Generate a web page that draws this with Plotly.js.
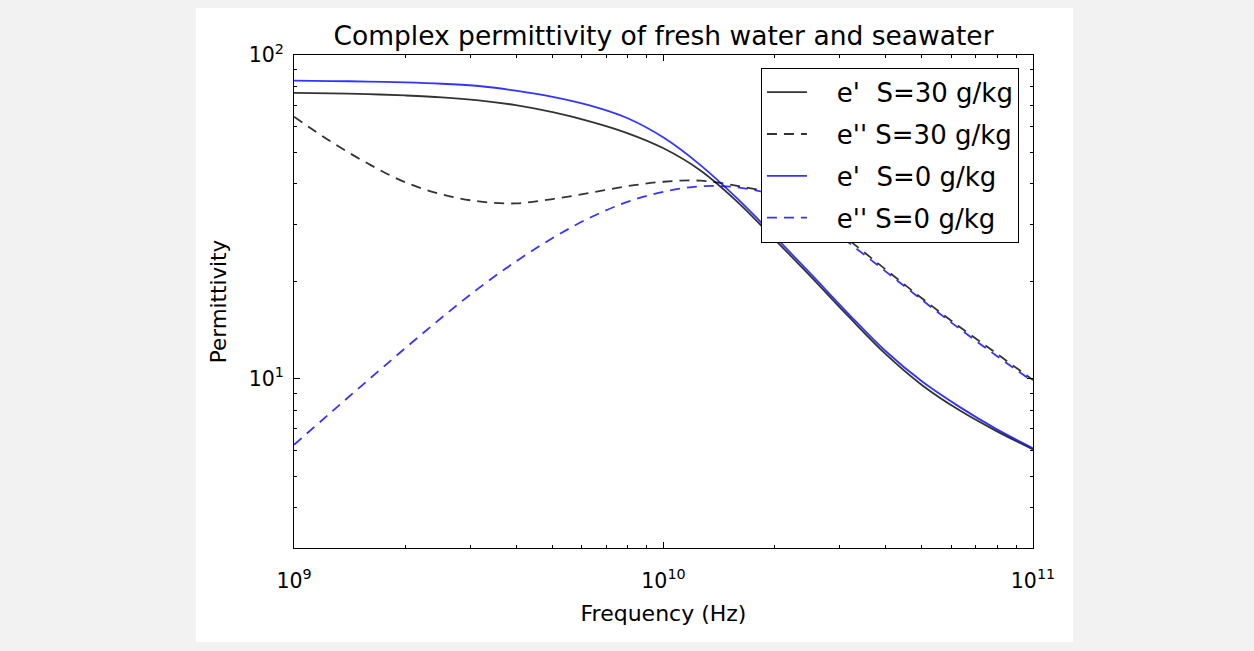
<!DOCTYPE html>
<html>
<head>
<meta charset="utf-8">
<script src="https://cdn.plot.ly/plotly-3.0.1.min.js"></script>
<style>html,body{margin:0;padding:0;background:#f2f2f2;}#chart{width:1254px;height:651px;}</style>
</head>
<body>
<div id="chart"></div>
<script>
// Frequencies (Hz) as log10 values
const logFreq = [9.0, 9.1, 9.2, 9.3, 9.4, 9.5, 9.6, 9.7, 9.8, 9.9, 10.0, 10.1, 10.2, 10.3, 10.4, 10.5, 10.6, 10.7, 10.8, 10.9, 11.0];
const freq = logFreq.map(v => Math.pow(10, v));

// e' S=30 g/kg (black solid)
const eReal30 = [76.4, 76.1, 75.7, 75.0, 74.0, 72.4, 70.0, 66.6, 62.4, 57.5, 51.5, 44.0, 35.2, 27.0, 20.6, 15.6, 11.95, 9.55, 8.0, 6.9, 6.05];
// e'' S=30 g/kg (black dashed)
const eImag30 = [64.5, 54.0, 46.2, 40.5, 37.1, 35.3, 34.8, 35.9, 37.5, 39.3, 40.6, 40.9, 39.4, 37.2, 33.0, 26.9, 21.8, 17.7, 14.5, 12.0, 9.9];
// e' S=0 g/kg (blue solid)
const eReal0 = [83.3, 83.1, 82.8, 82.3, 81.5, 80.2, 77.6, 74.3, 69.9, 64.0, 55.6, 45.7, 36.0, 27.6, 21.0, 15.9, 12.2, 9.8, 8.2, 7.0, 6.1];
// e'' S=0 g/kg (blue dashed)
const eImag0 = [6.25, 7.87, 9.89, 12.4, 15.45, 19.05, 23.0, 27.2, 31.4, 35.1, 37.8, 39.3, 39.0, 36.8, 32.4, 26.4, 21.5, 17.5, 14.3, 11.8, 9.8];

const seriesNames = ["e'\u00a0 S=30 g/kg", "e'' S=30 g/kg", "e'\u00a0 S=0 g/kg", "e'' S=0 g/kg"];

const xTickVals = [1e9, 1e10, 1e11];
const xTickText = ["10<sup>9</sup>", "10<sup>10</sup>", "10<sup>11</sup>"];
const xMinorVals = [2e9, 3e9, 4e9, 5e9, 6e9, 7e9, 8e9, 9e9, 2e10, 3e10, 4e10, 5e10, 6e10, 7e10, 8e10, 9e10];
const yTickVals = [10, 100];
const yTickText = ["10<sup>1</sup>", "10<sup>2</sup>"];
const yMinorVals = [3, 4, 5, 6, 7, 8, 9, 20, 30, 40, 50, 60, 70, 80, 90];

const BLACK = 'rgba(0,0,0,0.8)';
const BLUE = 'rgba(0,0,255,0.8)';
const DASH = '10px,7px';
const PAD = '\u00a0\u00a0\u00a0';

function tr(y, name, color, dash, grp) {
  return {
    x: freq, y: y, name: PAD + name, type: 'scatter', mode: 'lines',
    legendgroup: grp,
    line: {color: color, width: 1.8, dash: dash, shape: 'spline'}
  };
}

const data = [
  tr(eReal30, seriesNames[0], BLACK, 'solid', 'a'),
  tr(eImag30, seriesNames[1], BLACK, DASH, 'b'),
  tr(eReal0, seriesNames[2], BLUE, 'solid', 'c'),
  tr(eImag0, seriesNames[3], BLUE, DASH, 'd')
];

const FONT = 'DejaVu Sans, sans-serif';

const layout = {
  width: 1254, height: 651,
  margin: {l: 294, r: 221, t: 55, b: 103},
  paper_bgcolor: '#f2f2f2',
  plot_bgcolor: '#ffffff',
  font: {family: FONT, color: '#000', size: 20},
  title: {text: 'Complex permittivity of fresh water and seawater', font: {family: FONT, size: 26.5, color: '#000'},
          x: 0.5, xanchor: 'center', xref: 'paper', y: 0.945, yref: 'container', yanchor: 'middle'},
  xaxis: {
    type: 'log', range: [9, 11],
    showline: true, linecolor: '#000', linewidth: 1, mirror: 'allticks',
    ticks: 'inside', ticklen: 6, tickcolor: '#000', tickwidth: 1,
    tickvals: xTickVals, ticktext: xTickText,
    tickfont: {family: FONT, size: 20.5, color: '#000'},
    ticklabelstandoff: 14,
    showgrid: false, zeroline: false,
    minor: {tickmode: 'array', tickvals: xMinorVals, ticks: 'inside', ticklen: 3, tickcolor: '#000', showgrid: false},
    title: {text: 'Frequency (Hz)', font: {family: FONT, size: 22, color: '#000'}, standoff: 14}
  },
  yaxis: {
    type: 'log', range: [Math.log10(3), 2],
    showline: true, linecolor: '#000', linewidth: 1, mirror: 'allticks',
    ticks: 'inside', ticklen: 6, tickcolor: '#000', tickwidth: 1,
    tickvals: yTickVals, ticktext: yTickText,
    tickfont: {family: FONT, size: 20.5, color: '#000'},
    ticklabelstandoff: 5,
    showgrid: false, zeroline: false,
    minor: {tickmode: 'array', tickvals: yMinorVals, ticks: 'inside', ticklen: 3, tickcolor: '#000', showgrid: false},
    title: {text: 'Permittivity', font: {family: FONT, size: 21.5, color: '#000'}, standoff: 16}
  },
  legend: {
    x: 0.981, y: 0.974, xanchor: 'right', yanchor: 'top',
    bgcolor: '#ffffff', bordercolor: '#000', borderwidth: 1,
    font: {family: FONT, size: 26, color: '#000'},
    traceorder: 'grouped', tracegroupgap: 5, itemwidth: 40
  },
  shapes: [{
    type: 'rect', xref: 'paper', yref: 'paper', layer: 'below',
    x0: -0.1326, x1: 1.0541, y0: -0.1907, y1: 1.0953,
    fillcolor: '#ffffff', line: {width: 0}
  }],
  showlegend: true
};

Plotly.newPlot('chart', data, layout, {displayModeBar: false, staticPlot: true});
</script>
</body>
</html>
